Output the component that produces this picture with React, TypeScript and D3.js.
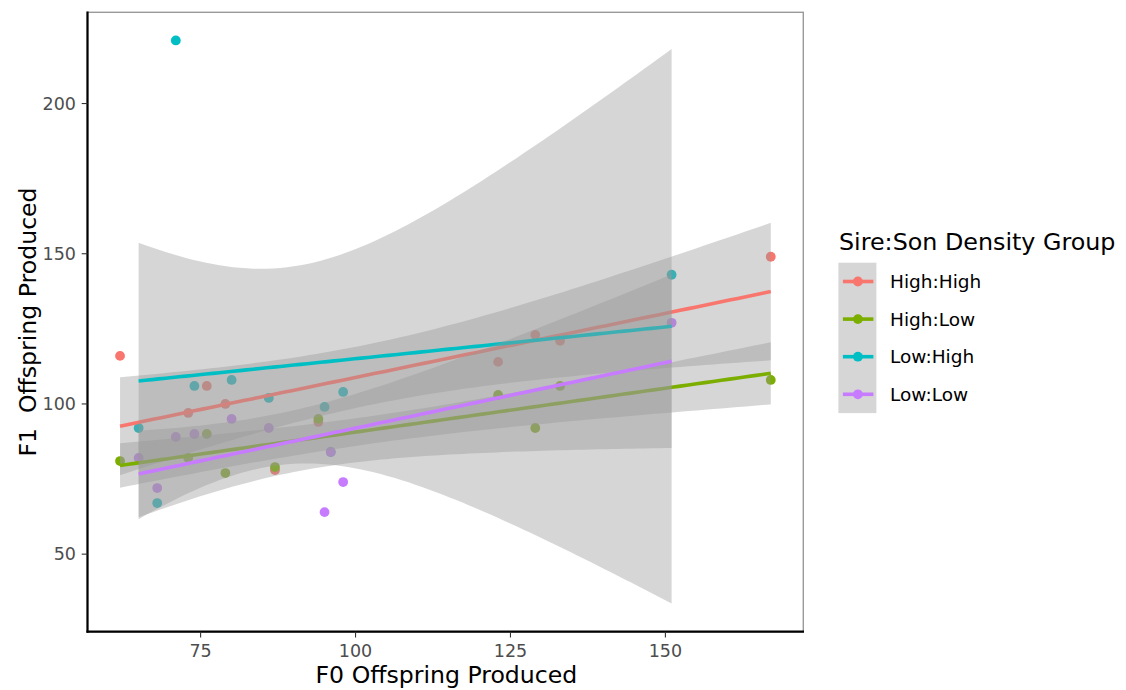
import React from "react";
import * as d3 from "d3";

const groups = ["High:High", "High:Low", "Low:High", "Low:Low"];
const colors = ["#F8766D", "#7CAE00", "#00BFC4", "#C77CFF"];

// F0 offspring of sires (x) per sire density
const xHighSire = [62, 73, 76, 79, 87, 94, 123, 129, 133, 167];
const xLowSire = [65, 68, 71, 74, 80, 86, 95, 96, 98, 151];
// F1 offspring (y) per group
const yHighHigh = [116, 97, 106, 100, 78, 94, 114, 123, 121, 149];
const yHighLow = [81, 82, 90, 77, 79, 95, 103, 92, 106, 108];
const yLowHigh = [92, 67, 221, 106, 108, 102, 99, 84, 104, 143];
const yLowLow = [82, 72, 89, 90, 95, 92, 64, 84, 74, 127];

const xTicks = [75, 100, 125, 150];
const yTicks = [50, 100, 150, 200];

const xTitle = "F0 Offspring Produced";
const yTitle = "F1  Offspring Produced";
const legendTitle = "Sire:Son Density Group";

const T975_DF8 = 2.306004;

type Pt = { x: number; y: number };

function fitLm(pts: Pt[]) {
  const n = pts.length;
  const mx = d3.mean(pts, (p) => p.x)!;
  const my = d3.mean(pts, (p) => p.y)!;
  const sxx = d3.sum(pts, (p) => (p.x - mx) ** 2);
  const sxy = d3.sum(pts, (p) => (p.x - mx) * (p.y - my));
  const b = sxy / sxx;
  const a = my - b * mx;
  const sse = d3.sum(pts, (p) => (p.y - (a + b * p.x)) ** 2);
  const s = Math.sqrt(sse / (n - 2));
  const [x0, x1] = d3.extent(pts, (p) => p.x) as [number, number];
  const out: { x: number; fit: number; lo: number; hi: number }[] = [];
  const m = 80;
  for (let i = 0; i < m; i++) {
    const x = x0 + ((x1 - x0) * i) / (m - 1);
    const fit = a + b * x;
    const se = s * Math.sqrt(1 / n + (x - mx) ** 2 / sxx);
    out.push({ x, fit, lo: fit - T975_DF8 * se, hi: fit + T975_DF8 * se });
  }
  return out;
}

export default function App() {
  const W = 1126, H = 690;
  const pl = 87.5, pr = 803.3, pt = 12.3, pb = 631.7;

  const series = [
    { name: groups[0], color: colors[0], pts: xHighSire.map((x, i) => ({ x, y: yHighHigh[i] })) },
    { name: groups[1], color: colors[1], pts: xHighSire.map((x, i) => ({ x, y: yHighLow[i] })) },
    { name: groups[2], color: colors[2], pts: xLowSire.map((x, i) => ({ x, y: yLowHigh[i] })) },
    { name: groups[3], color: colors[3], pts: xLowSire.map((x, i) => ({ x, y: yLowLow[i] })) },
  ].map((s) => ({ ...s, fit: fitLm(s.pts) }));

  const allX = series.flatMap((s) => s.pts.map((p) => p.x));
  const allY = series.flatMap((s) => [
    ...s.pts.map((p) => p.y),
    ...s.fit.map((f) => f.lo),
    ...s.fit.map((f) => f.hi),
  ]);
  const [xmin, xmax] = d3.extent(allX) as [number, number];
  const [ymin, ymax] = d3.extent(allY) as [number, number];
  const ex = (xmax - xmin) * 0.05;
  const ey = (ymax - ymin) * 0.05;

  const x = d3.scaleLinear().domain([xmin - ex, xmax + ex]).range([pl, pr]);
  const y = d3.scaleLinear().domain([ymin - ey, ymax + ey]).range([pb, pt]);

  const area = d3
    .area<{ x: number; lo: number; hi: number }>()
    .x((d) => x(d.x))
    .y0((d) => y(d.lo))
    .y1((d) => y(d.hi));
  const line = d3
    .line<{ x: number; fit: number }>()
    .x((d) => x(d.x))
    .y((d) => y(d.fit));

  const font = "DejaVu Sans, sans-serif";
  const legX = 838.4, legY = 262.7, keyW = 38, keyH = 37.6;

  return (
    <svg
      width={W}
      height={H}
      style={{ position: "absolute", left: 0, top: 0, background: "#fff" }}
      fontFamily={font}
    >
      <rect x={0} y={0} width={W} height={H} fill="#fff" />
      {/* points */}
      <g>
        {series.map((s) =>
          s.pts.map((p, i) => (
            <circle key={s.name + i} cx={x(p.x)} cy={y(p.y)} r={4.9} fill={s.color} />
          ))
        )}
      </g>
      {/* smooths */}
      {series.map((s) => (
        <g key={s.name}>
          <path d={area(s.fit) || ""} fill="#999999" fillOpacity={0.4} stroke="none" />
          <path d={line(s.fit) || ""} fill="none" stroke={s.color} strokeWidth={3.6} />
        </g>
      ))}
      {/* panel border */}
      <rect x={pl} y={pt} width={pr - pl} height={pb - pt} fill="none" stroke="#9a9a9a" strokeWidth={1.4} />
      {/* axis lines */}
      <line x1={pl} x2={pl} y1={pt - 0.7} y2={pb + 1} stroke="#000" strokeWidth={2.2} />
      <line x1={pl - 1} x2={pr + 0.7} y1={pb} y2={pb} stroke="#000" strokeWidth={2.2} />
      {/* x ticks */}
      {xTicks.map((t) => (
        <g key={"xt" + t}>
          <line x1={x(t)} x2={x(t)} y1={pb} y2={pb + 5.8} stroke="#333" strokeWidth={1.1} />
          <text x={x(t)} y={657} textAnchor="middle" fontSize={17.5} fill="#4d4d4d">
            {t}
          </text>
        </g>
      ))}
      {/* y ticks */}
      {yTicks.map((t) => (
        <g key={"yt" + t}>
          <line x1={pl - 5.8} x2={pl} y1={y(t)} y2={y(t)} stroke="#333" strokeWidth={1.1} />
          <text x={76} y={y(t)} dy="0.36em" textAnchor="end" fontSize={17.5} fill="#4d4d4d">
            {t}
          </text>
        </g>
      ))}
      {/* axis titles */}
      <text x={(pl + pr) / 2 + 1} y={683} textAnchor="middle" fontSize={23.6} fill="#000">
        {xTitle}
      </text>
      <text
        transform={`translate(35.5,${(pt + pb) / 2}) rotate(-90)`}
        textAnchor="middle"
        fontSize={23.6}
        fill="#000"
        style={{ whiteSpace: "pre" }}
      >
        {yTitle}
      </text>
      {/* legend */}
      <text x={839} y={250} fontSize={23.8} fill="#000">
        {legendTitle}
      </text>
      <rect x={legX} y={legY} width={keyW} height={keyH * groups.length} fill="#d6d6d6" />
      {series.map((s, i) => {
        const cy = legY + keyH * (i + 0.5);
        return (
          <g key={"lg" + s.name}>
            <line x1={legX + 4.5} x2={legX + keyW - 3} y1={cy} y2={cy} stroke={s.color} strokeWidth={3.6} />
            <circle cx={legX + keyW / 2 + 0.5} cy={cy} r={4.9} fill={s.color} />
            <text x={890} y={cy} dy="0.36em" fontSize={18.5} fill="#000">
              {s.name}
            </text>
          </g>
        );
      })}
    </svg>
  );
}
